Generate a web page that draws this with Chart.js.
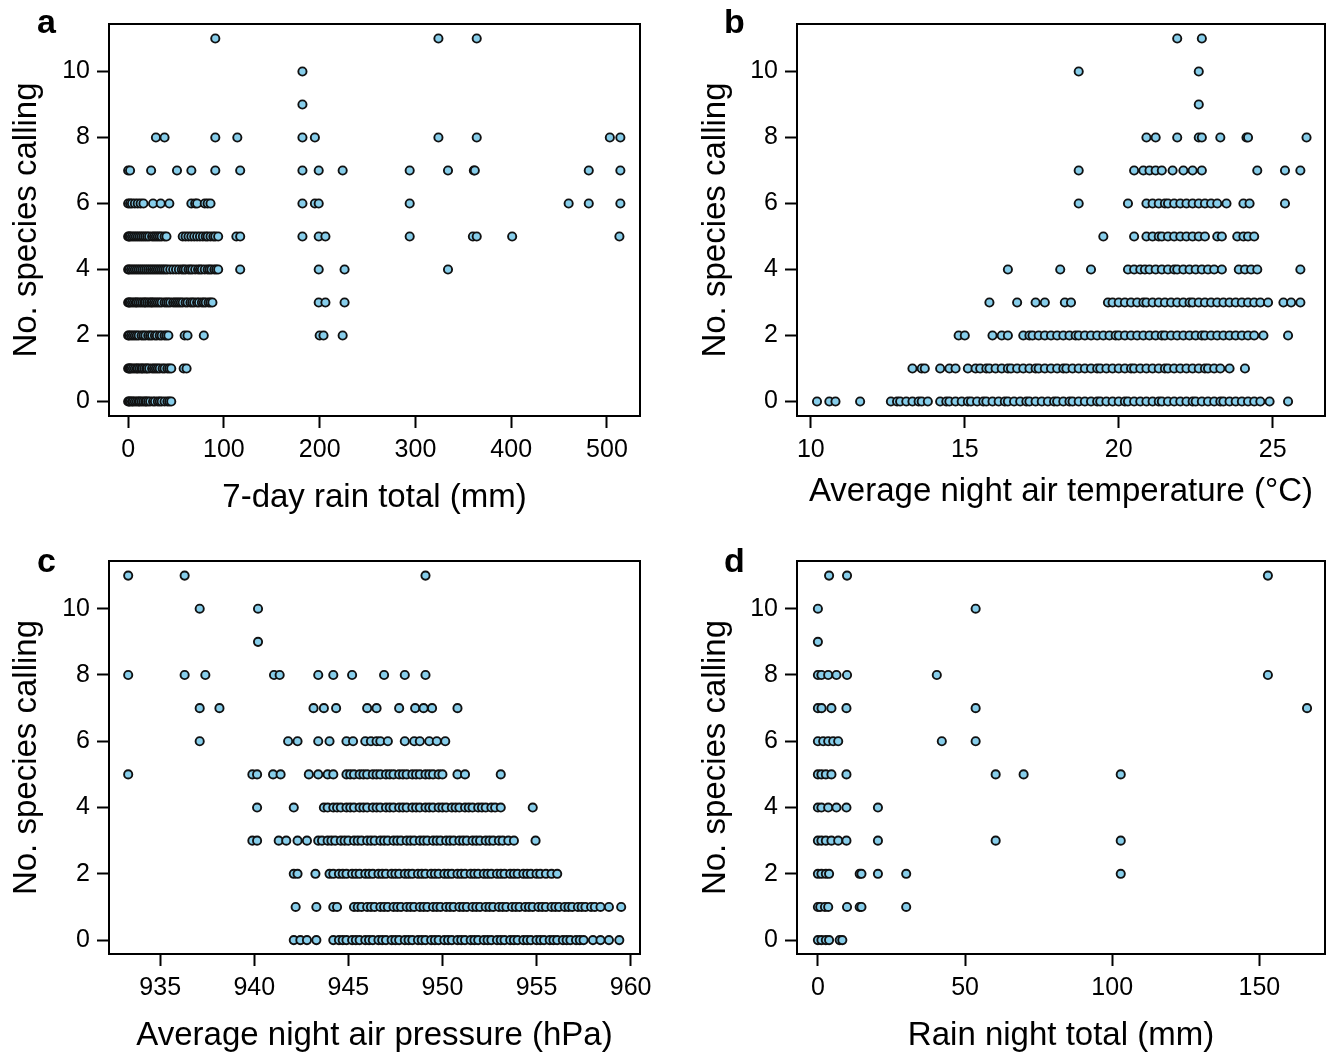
<!DOCTYPE html>
<html>
<head>
<meta charset="utf-8">
<script src="https://cdn.jsdelivr.net/npm/chart.js@4.4.1/dist/chart.umd.min.js"></script>
<style>
  html, body { margin: 0; padding: 0; background: #fff; }
  #page { position: relative; width: 1331px; height: 1052px; overflow: hidden; }
  canvas { position: absolute; }
  .tag { position: absolute; font: bold 34px/1 'Liberation Sans', Arial, sans-serif; color: #000; }
</style>
</head>
<body>
<div id="page">
  <canvas id="chartRain7" width="665" height="526" style="left:0;top:0"></canvas>
  <canvas id="chartTemp" width="666" height="526" style="left:665px;top:0"></canvas>
  <canvas id="chartPress" width="665" height="526" style="left:0;top:526px"></canvas>
  <canvas id="chartRainNight" width="666" height="526" style="left:665px;top:526px"></canvas>
  <div class="tag" style="left:37px;top:4px">a</div>
  <div class="tag" style="left:724px;top:4px">b</div>
  <div class="tag" style="left:37px;top:543px">c</div>
  <div class="tag" style="left:724px;top:543px">d</div>
</div>
<script>
// ── DATA ─────────────────────────────────────────────────────────────
// every row list holds the x values of the nights with n species calling (n = row index)
const SPECIES_TICKS = [0, 2, 4, 6, 8, 10];

const RAIN7_TICKS = [0, 100, 200, 300, 400, 500];
const rain7Rows = [
  [0, 1, 2, 4, 5, 7, 9, 11, 12, 14, 16, 18, 19, 21, 23, 26, 28, 31, 33, 35, 38, 41, 43, 45],
  [0, 1, 2, 3, 5, 7, 9, 10, 12, 14, 15, 17, 19, 20, 22, 25, 27, 29, 31, 33, 36, 38, 41, 43, 45, 58, 61],
  [0, 1, 3, 5, 7, 9, 11, 14, 16, 18, 21, 23, 25, 28, 30, 33, 35, 38, 40, 42, 59, 62, 79, 200, 204, 224],
  [0, 1, 2, 4, 6, 8, 9, 11, 13, 15, 17, 18, 20, 22, 24, 25, 27, 29, 31, 33, 35, 38, 40, 42, 44, 47, 49,
   51, 53, 55, 57, 60, 62, 65, 67, 69, 72, 74, 77, 79, 81, 84, 86, 88, 199, 206, 226],
  [0, 1, 3, 5, 7, 9, 11, 13, 15, 17, 19, 21, 23, 25, 27, 29, 31, 33, 35, 37, 39, 41, 44, 47, 50, 53, 56,
   58, 60, 63, 65, 67, 70, 73, 75, 77, 80, 83, 85, 87, 90, 92, 94, 117, 199, 226, 334],
  [0, 1, 2, 4, 6, 8, 10, 12, 14, 16, 18, 20, 22, 25, 27, 29, 31, 33, 35, 38, 40, 57, 60, 63, 66, 69, 72,
   75, 78, 81, 83, 86, 89, 91, 94, 113, 117, 182, 199, 206, 294, 360, 364, 401, 513],
  [0, 2, 4, 7, 10, 13, 16, 26, 34, 43, 66, 70, 72, 80, 83, 86, 182, 195, 199, 294, 460, 481, 514],
  [0, 2, 24, 51, 66, 91, 117, 182, 199, 224, 294, 334, 361, 362, 481, 514],
  [29, 38, 91, 114, 182, 195, 324, 364, 503, 514],
  [182],
  [182],
  [91, 324, 364]
];

const TEMP_TICKS = [10, 15, 20, 25];
const tempRows = [
  [10.2, 10.6, 10.8, 11.6, 12.6, 12.8, 12.9, 13.1, 13.3, 13.5, 13.6, 13.8, 14.2, 14.4, 14.5, 14.7, 14.9,
   15.1, 15.2, 15.4, 15.6, 15.7, 15.9, 16.1, 16.3, 16.4, 16.6, 16.8, 17.0, 17.1, 17.3, 17.5, 17.7, 17.9,
   18.0, 18.2, 18.4, 18.5, 18.7, 18.9, 19.1, 19.3, 19.4, 19.6, 19.8, 20.0, 20.2, 20.3, 20.5, 20.7, 20.9,
   21.1, 21.3, 21.4, 21.6, 21.8, 22.0, 22.2, 22.4, 22.5, 22.7, 22.9, 23.1, 23.3, 23.4, 23.6, 23.8, 24.0,
   24.2, 24.4, 24.6, 24.9, 25.5],
  [13.3, 13.6, 13.7, 14.2, 14.5, 14.7, 15.1, 15.35, 15.5, 15.7, 15.8, 16.0, 16.2, 16.4, 16.5, 16.7, 16.9,
   17.1, 17.3, 17.4, 17.6, 17.8, 18.0, 18.2, 18.3, 18.5, 18.7, 18.9, 19.1, 19.3, 19.4, 19.6, 19.8, 20.0,
   20.2, 20.4, 20.5, 20.7, 20.9, 21.1, 21.3, 21.5, 21.6, 21.8, 22.0, 22.2, 22.4, 22.6, 22.8, 22.9, 23.1,
   23.3, 23.6, 24.1],
  [14.8, 15.0, 15.9, 16.2, 16.4, 16.9, 17.1, 17.2, 17.4, 17.6, 17.8, 18.0, 18.2, 18.4, 18.6, 18.7, 18.9,
   19.1, 19.3, 19.5, 19.7, 19.9, 20.0, 20.2, 20.4, 20.6, 20.8, 21.0, 21.2, 21.4, 21.5, 21.7, 21.9, 22.1,
   22.3, 22.5, 22.7, 22.8, 23.0, 23.2, 23.4, 23.6, 23.8, 24.0, 24.2, 24.4, 24.7, 25.5],
  [15.8, 16.7, 17.3, 17.6, 18.25, 18.45, 19.65, 19.8, 20.0, 20.2, 20.4, 20.6, 20.8, 20.9, 21.1, 21.3,
   21.5, 21.7, 21.9, 22.1, 22.3, 22.4, 22.6, 22.8, 23.0, 23.2, 23.4, 23.6, 23.8, 24.0, 24.2, 24.4, 24.6,
   24.85, 25.35, 25.6, 25.9],
  [16.4, 18.1, 19.1, 20.3, 20.5, 20.7, 20.85, 21.0, 21.2, 21.4, 21.6, 21.8, 21.9, 22.1, 22.3, 22.5, 22.7,
   22.9, 23.1, 23.35, 23.9, 24.1, 24.3, 24.5, 25.9],
  [19.5, 20.5, 20.9, 21.1, 21.3, 21.4, 21.6, 21.8, 22.0, 22.2, 22.4, 22.6, 22.8, 23.2, 23.35, 23.85, 24.05,
   24.2, 24.4],
  [18.7, 20.3, 20.9, 21.1, 21.3, 21.5, 21.6, 21.8, 22.0, 22.2, 22.4, 22.6, 22.8, 23.0, 23.2, 23.5, 24.05,
   24.25, 25.4],
  [18.7, 20.5, 20.8, 21.0, 21.2, 21.4, 21.75, 22.1, 22.4, 22.7, 24.5, 25.4, 25.9],
  [20.9, 21.2, 21.9, 22.6, 22.7, 23.3, 24.15, 24.2, 26.1],
  [22.6],
  [18.7, 22.6],
  [21.9, 22.7]
];

const PRESS_TICKS = [935, 940, 945, 950, 955, 960];
const pressRows = [
  [942.1, 942.45, 942.8, 943.3, 944.2, 944.5, 944.7, 944.9, 945.2, 945.4, 945.6, 945.9, 946.1, 946.3,
   946.6, 946.8, 947.0, 947.3, 947.5, 947.7, 948.0, 948.2, 948.4, 948.7, 948.9, 949.1, 949.4, 949.6,
   949.8, 950.1, 950.3, 950.5, 950.8, 951.0, 951.2, 951.5, 951.7, 951.9, 952.2, 952.4, 952.6, 952.9,
   953.1, 953.3, 953.6, 953.8, 954.0, 954.3, 954.5, 954.7, 955.0, 955.2, 955.4, 955.7, 955.9, 956.1,
   956.4, 956.6, 956.8, 957.1, 957.3, 957.5, 958.0, 958.4, 958.85, 959.4],
  [942.2, 943.3, 944.2, 944.4, 945.3, 945.5, 945.7, 946.0, 946.2, 946.4, 946.7, 946.9, 947.1, 947.4,
   947.6, 947.8, 948.1, 948.3, 948.5, 948.8, 949.0, 949.2, 949.5, 949.7, 949.9, 950.2, 950.4, 950.6,
   950.9, 951.1, 951.3, 951.6, 951.8, 952.0, 952.3, 952.5, 952.7, 953.0, 953.2, 953.4, 953.7, 953.9,
   954.1, 954.4, 954.6, 954.8, 955.1, 955.3, 955.5, 955.8, 956.0, 956.2, 956.5, 956.7, 956.9, 957.2,
   957.4, 957.6, 957.9, 958.1, 958.4, 958.85, 959.5],
  [942.1, 942.3, 943.25, 944.0, 944.2, 944.5, 944.7, 944.9, 945.2, 945.4, 945.6, 945.9, 946.1, 946.3,
   946.6, 946.8, 947.0, 947.3, 947.5, 947.7, 948.0, 948.2, 948.4, 948.7, 948.9, 949.1, 949.4, 949.6,
   949.8, 950.1, 950.3, 950.5, 950.8, 951.0, 951.2, 951.5, 951.7, 951.9, 952.2, 952.4, 952.6, 952.9,
   953.1, 953.3, 953.6, 953.8, 954.0, 954.3, 954.5, 954.7, 955.0, 955.2, 955.5, 955.8, 956.1],
  [939.9, 940.15, 941.3, 941.7, 942.3, 942.8, 943.4, 943.6, 943.9, 944.1, 944.3, 944.6, 944.8, 945.0,
   945.3, 945.5, 945.7, 946.0, 946.2, 946.4, 946.7, 946.9, 947.1, 947.4, 947.6, 947.8, 948.1, 948.3,
   948.5, 948.8, 949.0, 949.2, 949.5, 949.7, 949.9, 950.2, 950.4, 950.6, 950.9, 951.1, 951.3, 951.6,
   951.8, 952.0, 952.3, 952.5, 952.7, 953.0, 953.2, 953.5, 953.8, 954.95],
  [940.15, 942.1, 943.7, 943.9, 944.2, 944.4, 944.6, 944.9, 945.1, 945.3, 945.6, 945.8, 946.0, 946.3,
   946.5, 946.7, 947.0, 947.2, 947.4, 947.7, 947.9, 948.1, 948.4, 948.6, 948.8, 949.1, 949.3, 949.5,
   949.8, 950.0, 950.2, 950.5, 950.7, 950.9, 951.2, 951.4, 951.6, 951.9, 952.1, 952.3, 952.6, 952.8,
   953.1, 954.8],
  [933.3, 939.9, 940.15, 941.0, 941.4, 942.9, 943.4, 943.9, 944.2, 944.9, 945.1, 945.3, 945.6, 945.8,
   946.0, 946.3, 946.5, 946.7, 947.0, 947.2, 947.4, 947.7, 947.9, 948.1, 948.4, 948.6, 948.8, 949.1,
   949.3, 949.5, 949.8, 950.0, 950.8, 951.2, 953.1],
  [937.1, 941.8, 942.3, 943.4, 944.0, 944.9, 945.25, 945.9, 946.2, 946.5, 946.7, 947.1, 948.0, 948.5,
   948.8, 949.3, 949.7, 950.15],
  [937.1, 938.15, 943.15, 943.7, 944.35, 946.0, 946.5, 947.7, 948.55, 949.0, 949.45, 950.8],
  [933.3, 936.3, 937.4, 941.05, 941.35, 943.4, 944.2, 945.2, 946.9, 948.0, 949.1],
  [940.2],
  [937.1, 940.2],
  [933.3, 936.3, 949.1]
];

const RAINNIGHT_TICKS = [0, 50, 100, 150];
const rainNightRows = [
  [0, 1.2, 2.7, 3.8, 7.4, 8.3],
  [0, 0.8, 2.4, 3.5, 9.9, 14.2, 14.8, 30],
  [0, 1.2, 2.7, 3.8, 14.2, 14.8, 20.4, 30, 102.9],
  [0, 1.2, 2.7, 4.6, 6.9, 9.7, 20.4, 60.4, 102.9],
  [0, 1.2, 3.5, 6.3, 9.7, 20.4],
  [0, 1.2, 2.7, 4.6, 9.7, 60.4, 69.9, 102.9],
  [0, 1.8, 3.5, 5.2, 6.9, 42.1, 53.6],
  [0, 1.25, 4.6, 9.7, 53.6, 166.2],
  [0, 1.2, 3.5, 6.3, 9.9, 40.4, 152.9],
  [0],
  [0, 53.6],
  [3.8, 9.9, 152.9]
];

const Y_TITLE = 'No. species calling';

// ── STYLE ────────────────────────────────────────────────────────────
const FONT = "'Liberation Sans', Arial, sans-serif";
const INK = '#000';

// R style box around the plotting region
const framePlugin = {
  id: 'frame',
  afterDatasetsDraw(chart) {
    const { ctx, chartArea: a } = chart;
    ctx.save();
    ctx.strokeStyle = INK;
    ctx.lineWidth = 2;
    ctx.strokeRect(a.left, a.top, a.right - a.left, a.bottom - a.top);
    ctx.restore();
  }
};

function toPoints(rows) {
  return rows.flatMap((xs, n) => xs.map(x => ({ x, y: n })));
}

function axis(ticks, min, max, title, fitKey, fitSize, titlePad) {
  return {
    type: 'linear',
    min, max,
    afterBuildTicks(s) { s.ticks = ticks.map(v => ({ value: v })); },
    afterFit(s) { s[fitKey] = fitSize; },
    border: { display: false },
    grid: { display: true, drawOnChartArea: false, drawTicks: true, tickLength: 12, tickWidth: 2, tickColor: INK },
    ticks: { autoSkip: false, maxRotation: 0, minRotation: 0, padding: 7, color: INK, font: { family: FONT, size: 25 } },
    title: { display: true, text: title, color: INK, font: { family: FONT, size: 33, lineHeight: 1 }, padding: titlePad }
  };
}

// ── PANELS ───────────────────────────────────────────────────────────
function makePanel(id, rows, ticks, xRange, xTitle, box) {
  const el = document.getElementById(id);
  return new Chart(el, {
    type: 'scatter',
    data: {
      datasets: [{
        data: toPoints(rows),
        pointRadius: 4.1,
        pointHoverRadius: 4.1,
        pointBackgroundColor: '#87CEEB',
        pointBorderColor: '#111',
        pointBorderWidth: 1.9
      }]
    },
    options: {
      responsive: false,
      animation: false,
      events: [],
      layout: { padding: box.pad },
      plugins: { legend: { display: false }, tooltip: { enabled: false } },
      scales: {
        x: axis(ticks, xRange[0], xRange[1], xTitle, 'height', box.xHeight, { top: 0, bottom: box.xTitlePad }),
        y: axis(SPECIES_TICKS, box.yRange[0], box.yRange[1], Y_TITLE, 'width', box.yWidth, { top: box.yTitlePad, bottom: 0 })
      }
    },
    plugins: [framePlugin]
  });
}

const TOP_Y = [-0.44, 11.44];
const BOT_Y = [-0.42, 11.44];

makePanel('chartRain7', rain7Rows, RAIN7_TICKS, [-20, 534.5], '7-day rain total (mm)',
  { pad: { left: 0, top: 24, right: 25, bottom: 0 }, yWidth: 109, xHeight: 110, yTitlePad: 10, xTitlePad: 12, yRange: TOP_Y });

makePanel('chartTemp', tempRows, TEMP_TICKS, [9.55, 26.7], 'Average night air temperature (°C)',
  { pad: { left: 0, top: 24, right: 3, bottom: 0 }, yWidth: 132, xHeight: 110, yTitlePad: 34, xTitlePad: 18, yRange: TOP_Y });

makePanel('chartPress', pressRows, PRESS_TICKS, [932.28, 960.5], 'Average night air pressure (hPa)',
  { pad: { left: 0, top: 35, right: 25, bottom: 0 }, yWidth: 109, xHeight: 98, yTitlePad: 10, xTitlePad: 0, yRange: BOT_Y });

makePanel('chartRainNight', rainNightRows, RAINNIGHT_TICKS, [-7.1, 172.3], 'Rain night total (mm)',
  { pad: { left: 0, top: 35, right: 3, bottom: 0 }, yWidth: 132, xHeight: 98, yTitlePad: 34, xTitlePad: 0, yRange: BOT_Y });
</script>
</body>
</html>
